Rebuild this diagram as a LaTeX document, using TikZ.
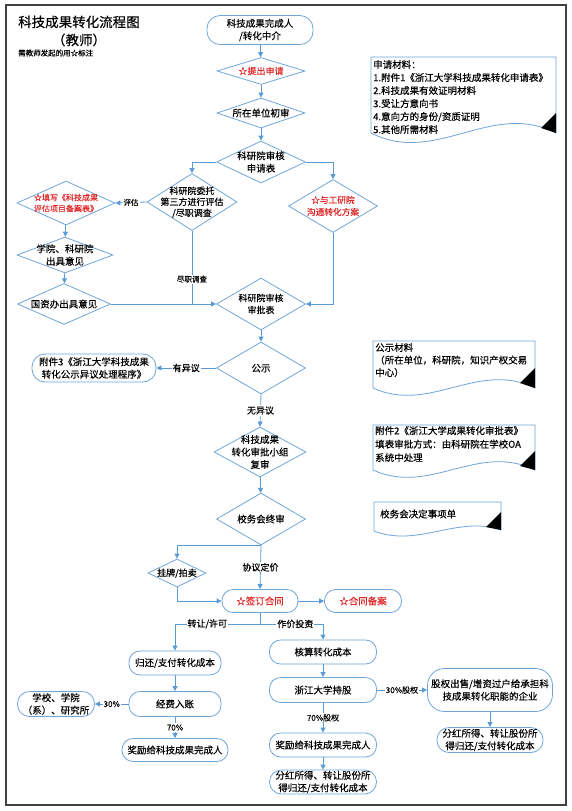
\documentclass[tikz,border=0pt]{standalone}
\usepackage{fontspec}
\setmainfont{Noto Sans CJK SC}[FakeBold=0.35]
\usetikzlibrary{shapes.geometric,arrows.meta}
\definecolor{bl}{RGB}{91,155,213}
\definecolor{nb}{RGB}{110,165,218}
\definecolor{rd}{RGB}{225,40,40}
\newcommand{\dtx}[1]{\makebox[0pt]{\smash{\raisebox{-0.36em}{\begin{tabular}{@{}c@{}}#1\end{tabular}}}}}
\newcommand{\fs}[2]{\fontsize{#1}{#2}\selectfont}
\begin{document}
\begin{tikzpicture}[x=1pt,y=-1pt,
  base/.style={font=\fs{9.5}{12.5}, align=center, inner sep=0pt, line width=0.8pt, draw=nb},
  dia/.style={base, diamond},
  term/.style={base, rectangle, rounded corners=11pt},
  hot/.style={text=rd},
  arr/.style={draw=bl, line width=0.8pt, -{Triangle[length=5pt,width=5pt]}},
  ln/.style={draw=bl, line width=0.8pt},
  lab/.style={font=\fs{9}{10}, fill=white, inner sep=1pt},
  slab/.style={font=\fs{7.5}{9}, fill=white, inner sep=1pt},
  doc/.style={draw=nb, line width=0.8pt, fill=white},
  dtext/.style={font=\fs{9.5}{13}, align=left, inner sep=0pt, anchor=north west},
]
\useasboundingbox (0,0) rectangle (572,811);
\draw[line width=1.3pt, black!75] (6,5) rectangle (566,805);

% title
\node[font=\fs{13.5}{15}, anchor=west, inner sep=0pt] (t1) at (18,22) {科技成果转化流程图};
\node[font=\fs{13.5}{15}, inner sep=0pt] (t2) at (79,40) {（教师）};
\node[font=\fs{7.5}{9}, anchor=west, inner sep=0pt] (t3) at (18,53) {需教师发起的用☆标注};

% main column
\node[term, rounded corners=13pt, minimum width=106pt, minimum height=29pt] (n1) at (260,30) {科技成果完成人\\/转化中介};
\node[dia, hot, font=\fs{9}{12}, minimum width=88pt, minimum height=27pt] (n2) at (261,71) {\dtx{☆提出申请}};
\node[dia, minimum width=88pt, minimum height=30pt] (n3) at (261,113) {\dtx{所在单位初审}};
\node[dia, minimum width=89pt, minimum height=42pt] (n4) at (261,162) {\dtx{科研院审核\\申请表}};
\node[dia, font=\fs{9}{11}, minimum width=90pt, minimum height=57pt] (n5) at (192,202) {\dtx{科研院委托\\第三方进行评估\\/尽职调查}};
\node[dia, hot, font=\fs{8}{11}, minimum width=98pt, minimum height=44pt] (n6) at (66,203) {\dtx{☆填写《科技成果\\评估项目备案表》}};
\node[dia, minimum width=96pt, minimum height=36pt] (n7) at (65,255) {\dtx{学院、科研院\\出具意见}};
\node[dia, minimum width=93pt, minimum height=41pt] (n8) at (64,304) {\dtx{国资办出具意见}};
\node[dia, font=\fs{9}{12}, minimum width=89pt, minimum height=52pt] (n9) at (261,304) {\dtx{科研院审核\\审批表}};
\node[dia, hot, font=\fs{8.7}{12}, minimum width=89pt, minimum height=53pt] (n10) at (333,206) {\dtx{☆与工研院\\沟通转化方案}};
\node[dia, minimum width=89pt, minimum height=52pt] (n11) at (261,368) {\dtx{公示}};
\node[term, rounded corners=13pt, minimum width=124pt, minimum height=28pt] (n12) at (94,368) {附件3《浙江大学科技成果\\转化公示异议处理程序》};
\node[dia, minimum width=92pt, minimum height=50pt] (n13) at (260,452) {\dtx{科技成果\\转化审批小组\\复审}};
\node[dia, minimum width=89pt, minimum height=52pt] (n14) at (261,519) {\dtx{校务会终审}};
\node[dia, font=\fs{9}{11}, minimum width=58pt, minimum height=28pt] (n15) at (177,573) {\dtx{挂牌/拍卖}};
\node[term, hot, minimum width=76pt, minimum height=23pt] (n16) at (260,601) {☆签订合同};
\node[term, hot, minimum width=77pt, minimum height=23pt] (n17) at (363,601) {☆合同备案};
\node[term, minimum width=92pt, minimum height=24pt] (n18) at (175,663) {归还/支付转化成本};
\node[term, minimum width=107pt, minimum height=24pt] (n19) at (323,652) {核算转化成本};
\node[term, minimum width=107pt, minimum height=25pt] (n20) at (323,690) {浙江大学持股};
\node[term, minimum width=92pt, minimum height=25pt] (n21) at (175,704) {经费入账};
\node[term, rounded corners=12pt, minimum width=77pt, minimum height=25pt] (n22) at (56,704) {学校、学院\\（系）、研究所};
\node[term, minimum width=106pt, minimum height=23pt] (n23) at (175,750) {奖励给科技成果完成人};
\node[term, rounded corners=17pt, minimum width=125pt, minimum height=43pt] (n24) at (490,690) {股权出售/增资过户给承担科\\技成果转化职能的企业};
\node[term, rounded corners=12pt, minimum width=106pt, minimum height=25pt] (n25) at (490,740) {分红所得、转让股份所\\得归还/支付转化成本};
\node[term, minimum width=107pt, minimum height=24pt] (n26) at (323,745) {奖励给科技成果完成人};
\node[term, rounded corners=12pt, minimum width=107pt, minimum height=24pt] (n27) at (323,782) {分红所得、转让股份所\\得归还/支付转化成本};

% documents
\draw[doc] (371,57) -- (556,57) -- (556,133) .. controls (491,100) and (436,166) .. (371,133) -- cycle;
\fill (556,113) -- (556,133) -- (541,128) -- cycle;
\node[dtext] (d1) at (373,60) {申请材料：\\1.附件1《浙江大学科技成果转化申请表》\\2.科技成果有效证明材料\\3.受让方意向书\\4.意向方的身份/资质证明\\5.其他所需材料};

\draw[doc] (373,341) -- (535,341) -- (535,388) .. controls (478,360) and (430,414) .. (373,388) -- cycle;
\fill (535,368) -- (535,388) -- (520,383) -- cycle;
\node[dtext, font=\fs{9.5}{12.5}] (d2) at (375,343) {公示材料\\（所在单位，科研院，知识产权交易\\中心）};

\draw[doc] (373,425) -- (535,425) -- (535,470) .. controls (478,442) and (430,496) .. (373,470) -- cycle;
\fill (535,451) -- (535,470) -- (520,466) -- cycle;
\node[dtext, font=\fs{9.5}{13.5}] (d3) at (375,426) {附件2《浙江大学成果转化审批表》\\填表审批方式：由科研院在学校OA\\系统中处理};

\draw[doc] (374,502) -- (501,502) -- (501,530) .. controls (458,515) and (418,548) .. (374,531) -- cycle;
\fill (501,512) -- (501,530) -- (486,527) -- cycle;
\node[font=\fs{9.5}{12}, anchor=west, inner sep=0pt] (d4) at (380,514) {校务会决定事项单};

% edges
\draw[arr] (n1) -- (n2);
\draw[arr] (n2) -- (n3);
\draw[arr] (n3) -- (n4);
\draw[arr] (n4.west) -| (n5.north);
\draw[arr] (n4.east) -| (n10.north);
\draw[arr] (n5.west) -- node[slab]{评估} (n6.east);
\draw[arr] (n6) -- (n7);
\draw[arr] (n7) -- (n8);
\draw[arr] (n8.east) -- (n9.west);
\draw[ln] (n5.south) -- node[slab, pos=0.66]{尽职调查} (n5.south |- n9.west);
\draw[arr] (n10.south) |- (n9.east);
\draw[arr] (n9) -- (n11);
\draw[arr] (n11.west) -- node[lab]{有异议} (n12.east);
\draw[arr] (n11.south) -- node[lab]{无异议} (n13.north);
\draw[arr] (n13) -- (n14);
\draw[arr] (n14.south) -| (n15.north);
\draw[arr] (n14.south) -- node[lab]{协议定价} (n16.north);
\draw[arr] (n15.south) |- (n16.west);
\draw[arr] (n16) -- (n17);
\draw[arr] (n16.south) -- ++(0,11) coordinate (j1) -| node[lab, pos=0.31]{转让/许可} (n18.north);
\draw[arr] (j1) -| node[lab, pos=0.28]{作价投资} (n19.north);
\draw[arr] (n18) -- (n21);
\draw[arr] (n21.west) -- node[lab, font=\fs{8}{9}]{30\%} (n22.east);
\draw[arr] (n21.south) -- node[lab, font=\fs{8}{9}]{70\%} (n23.north);
\draw[arr] (n19) -- (n20);
\draw[arr] (n20.east) -- node[lab, font=\fs{8}{9}]{30\%股权} (n24.west);
\draw[arr] (n20.south) -- node[lab, font=\fs{8}{9}]{70\%股权} (n26.north);
\draw[arr] (n26) -- (n27);
\draw[arr] (n24) -- (n25);
\end{tikzpicture}
\end{document}
